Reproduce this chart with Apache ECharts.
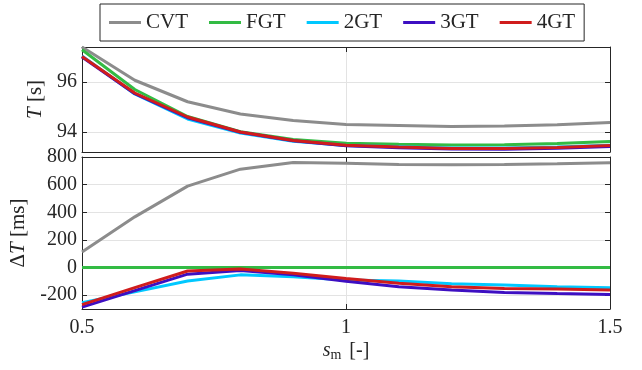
<!DOCTYPE html>
<html>
<head>
<meta charset="utf-8">
<script src="https://cdn.jsdelivr.net/npm/echarts@6/dist/echarts.min.js"></script>
<style>html,body{margin:0;padding:0;background:#fff}#main{width:642px;height:370px}</style>
</head>
<body>
<div id="main"></div>
<script>
// s_m values
var sm = [0.5, 0.6, 0.7, 0.8, 0.9, 1.0, 1.1, 1.2, 1.3, 1.4, 1.5];
var names = ["CVT", "FGT", "2GT", "3GT", "4GT"];
var colors = ["#8c8c8c", "#33bb44", "#00c8ff", "#3d0fc2", "#d01c1c"];

// T [s]
var tCVT = [97.40, 96.07, 95.21, 94.72, 94.46, 94.30, 94.26, 94.22, 94.24, 94.29, 94.38];
var tFGT = [97.29, 95.70, 94.62, 94.01, 93.70, 93.55, 93.51, 93.48, 93.49, 93.54, 93.62];
var t2GT = [97.04, 95.52, 94.52, 93.96, 93.63, 93.46, 93.41, 93.36, 93.36, 93.40, 93.47];
var t3GT = [97.00, 95.53, 94.57, 93.99, 93.65, 93.45, 93.37, 93.32, 93.31, 93.35, 93.42];
var t4GT = [97.02, 95.56, 94.60, 94.00, 93.66, 93.47, 93.40, 93.34, 93.34, 93.38, 93.46];

// dT [ms]
var dCVT = [113, 367, 589, 712, 761, 754, 746, 744, 746, 751, 758];
var dFGT = [0, 0, 0, 0, 0, 0, 0, 0, 0, 0, 0];
var d2GT = [-254, -176, -97, -53, -66, -90, -97, -117, -127, -139, -147];
var d3GT = [-286, -167, -48, -22, -53, -100, -139, -163, -180, -188, -195];
var d4GT = [-268, -145, -25, -10, -41, -80, -114, -139, -151, -156, -163];

var xTicks = [0.5, 1, 1.5];
var tTicks = [94, 96];
var dTicks = [-200, 0, 200, 400, 600, 800];

var font = "Liberation Serif";
var ink = "#262626";

function pairs(ys) {
  var out = [];
  for (var i = 0; i < sm.length; i++) out.push([sm[i], ys[i]]);
  return out;
}

function xAx(grid, pos, labels) {
  return {
    type: "value", gridIndex: grid, position: pos,
    min: 0.5, max: 1.5, interval: 0.5,
    axisLine: { show: true, onZero: false, lineStyle: { color: ink, width: 1 } },
    axisTick: { show: true, inside: true, length: 5, lineStyle: { color: ink } },
    axisLabel: { show: labels, color: ink, fontFamily: font, fontSize: 20, margin: 9 },
    splitLine: { show: pos == "bottom", lineStyle: { color: "#e3e3e3", width: 1 } }
  };
}

function yAx(grid, pos, mn, mx, ticks, labels) {
  return {
    type: "value", gridIndex: grid, position: pos,
    min: mn, max: mx,
    axisLine: { show: true, lineStyle: { color: ink, width: 1 } },
    axisTick: { show: true, inside: true, length: 5, customValues: ticks, lineStyle: { color: ink } },
    axisLabel: { show: labels, customValues: ticks, color: ink, fontFamily: font, fontSize: 20, margin: 5 },
    splitLine: { show: pos == "left", lineStyle: { color: "#e3e3e3", width: 1 } }
  };
}

var tAll = [tCVT, tFGT, t2GT, t3GT, t4GT];
var dAll = [dCVT, dFGT, d2GT, d3GT, d4GT];
var series = [];
for (var k = 0; k < names.length; k++) {
  series.push({ name: names[k], type: "line", xAxisIndex: 0, yAxisIndex: 0, data: pairs(tAll[k]),
    symbol: "none", lineStyle: { width: 3, color: colors[k] }, itemStyle: { color: colors[k] } });
}
for (var k = 0; k < names.length; k++) {
  series.push({ name: names[k], type: "line", xAxisIndex: 2, yAxisIndex: 2, data: pairs(dAll[k]),
    symbol: "none", lineStyle: { width: 3, color: colors[k] }, itemStyle: { color: colors[k] } });
}

var xa0 = xAx(0, "bottom", false);
var xa1 = xAx(0, "top", false);
var xa2 = xAx(1, "bottom", true);
xa2.name = "{i|s}{sub|m} [-]";
xa2.nameLocation = "middle";
xa2.nameGap = 30;
xa2.nameTextStyle = { color: ink, fontFamily: font, fontSize: 20,
  rich: { i: { fontStyle: "italic", fontFamily: font, fontSize: 20 },
          sub: { fontFamily: font, fontSize: 14, padding: [9, 3, 0, 0] } } };
var xa3 = xAx(1, "top", false);

var ya0 = yAx(0, "left", 93.2, 97.4, tTicks, true);
ya0.name = "{i|T} [s]";
ya0.nameLocation = "middle";
ya0.nameGap = 28;
ya0.nameTextStyle = { color: ink, fontFamily: font, fontSize: 21,
  rich: { i: { fontStyle: "italic", fontFamily: font, fontSize: 21 } } };
var ya1 = yAx(0, "right", 93.2, 97.4, tTicks, false);
var ya2 = yAx(1, "left", -300, 800, dTicks, true);
ya2.name = "Δ{i|T} [ms]";
ya2.nameLocation = "middle";
ya2.nameGap = 48;
ya2.nameTextStyle = { color: ink, fontFamily: font, fontSize: 21,
  rich: { i: { fontStyle: "italic", fontFamily: font, fontSize: 21 } } };
var ya3 = yAx(1, "right", -300, 800, dTicks, false);

var chart = echarts.init(document.getElementById("main"), null, { renderer: "canvas" });
chart.setOption({
  animation: false,
  backgroundColor: "#fff",
  legend: {
    data: names, left: 100, top: 4, orient: "horizontal",
    padding: [8, 9, 8, 9], itemGap: 21, itemWidth: 32, itemHeight: 3, icon: "rect",
    borderColor: ink, borderWidth: 1,
    textStyle: { color: ink, fontFamily: font, fontSize: 21 }
  },
  grid: [
    { left: 82, top: 47, width: 528, height: 105 },
    { left: 82, top: 157, width: 528, height: 152 }
  ],
  xAxis: [xa0, xa1, xa2, xa3],
  yAxis: [ya0, ya1, ya2, ya3],
  series: series
});
</script>
</body>
</html>
